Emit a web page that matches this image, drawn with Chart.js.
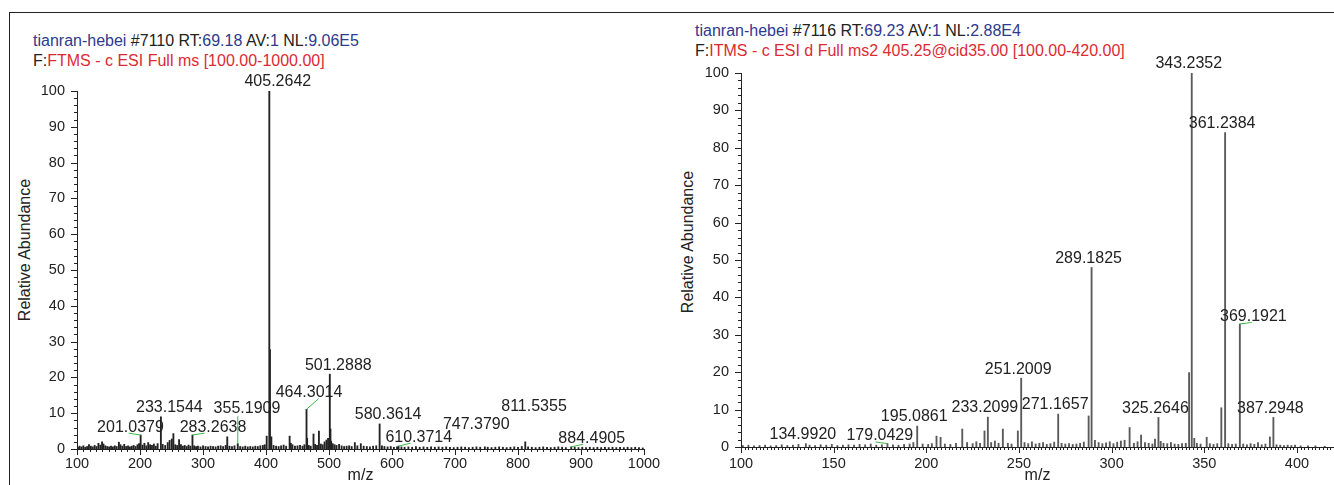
<!DOCTYPE html>
<html>
<head>
<meta charset="utf-8">
<script src="https://cdn.jsdelivr.net/npm/chart.js@4.4.1/dist/chart.umd.min.js"></script>
<style>
body{margin:0;width:1334px;height:485px;background:#fff;position:relative;overflow:hidden;font-family:'Liberation Sans',Arial,sans-serif;}
#frame{position:absolute;left:9px;top:12px;width:1400px;height:500px;border-left:1px solid #222;border-top:1px solid #222;}
.hdr{position:absolute;font-size:16px;line-height:20px;white-space:nowrap;color:#222;}
.b{color:#2e3a8e}
.r{color:#dc2a34}
.ytitle{position:absolute;font-size:16px;white-space:nowrap;color:#222;transform:translate(-50%,-50%) rotate(-90deg);}
canvas{position:absolute;top:0}
</style>
</head>
<body>
<div id="frame"></div>

<div class="hdr" style="left:33px;top:31px"><span class="b">tianran-hebei</span> #7110 RT:<span class="b">69.18</span> AV:<span class="b">1</span> NL:<span class="b">9.06E5</span></div>
<div class="hdr" style="left:33px;top:51px">F:<span class="r">FTMS - c ESI Full ms [100.00-1000.00]</span></div>
<div class="hdr" style="left:695px;top:21px"><span class="b">tianran-hebei</span> #7116 RT:<span class="b">69.23</span> AV:<span class="b">1</span> NL:<span class="b">2.88E4</span></div>
<div class="hdr" style="left:695px;top:41px">F:<span class="r">ITMS - c ESI d Full ms2 405.25@cid35.00 [100.00-420.00]</span></div>

<div class="ytitle" style="left:25px;top:250px">Relative Abundance</div>
<div class="ytitle" style="left:688px;top:242px">Relative Abundance</div>

<canvas id="ms1" width="680" height="485" style="left:0"></canvas>
<canvas id="ms2" width="674" height="485" style="left:660px"></canvas>

<script>
// Full scan #7110 (m/z, relative abundance)
const ms1Mz = [101.5,104,107,110,113,116,119,122,125,128,131,134,137,139.8,142,145,148,151,154,157,160,163,166.5,169,172,175,178,181,184,187,190,193,196,198.5,201.0379,204,207,210,213,216,219,222,225,228,233.1544,236,240,244,247,250.5,253,256,259,262,265,268,271,274,277,280,283.2638,286,289,292,296,300,304,308,312,316,320,324,328,332,336,338.5,342,346,350,355.1909,359,363,367,371,375,379,383,387,391,395,398,401.1,405.2642,406.27,408.5,412,416,420,424,428,432,437.5,439.5,442,446,450,454,458,461,464.3014,465.3,468,471,475.4,478,481,484,487,490,493,496,498.5,501.2888,502.3,503.4,506,509,512,516,520,524,528,532,536,541,545,550.5,555,560,565,570,575,580.3614,584,588,593,598,603,608,610.3714,615,620,626,632,638,644,650,656,662,668,674,680,686,692,698,704,710,716,722,728,734,740,747.379,752,758,764,770,776,782,788,794,800,806,811.5355,816,822,828,834,840,846,852,858,864,870,876,884.4905,890,896,902,908,914,920,926,932,938,944,950,956,962,968,974,980,986,992,998];
const ms1Int = [0.5,0.8,0.6,0.9,0.5,0.7,1.2,0.8,0.6,1.0,0.7,1.6,1.1,2.0,1.4,0.9,0.7,0.6,0.8,0.6,0.9,0.7,1.9,1.2,0.8,1.3,0.7,0.9,0.6,0.8,1.0,0.7,1.2,1.5,3.9,1.1,1.6,0.9,1.8,1.2,1.0,1.4,0.8,1.5,9.0,1.3,1.0,1.8,2.4,2.8,4.3,1.2,1.0,2.6,1.2,0.8,1.0,0.7,1.1,0.8,3.9,0.9,0.7,0.8,0.6,0.9,0.7,0.6,0.8,0.7,0.6,0.8,0.9,0.7,1.0,3.4,0.8,0.7,0.9,1.5,0.7,0.6,0.8,0.6,0.7,0.6,0.8,0.7,0.9,1.0,1.2,3.6,100,27.8,3.4,1.0,0.8,0.7,0.9,1.1,0.8,3.6,1.6,1.2,0.8,0.9,1.0,0.8,1.2,11.1,3.0,1.0,0.8,4.2,1.3,1.0,5.0,1.4,1.2,2.0,2.5,3.0,20.9,5.6,2.2,1.5,1.2,1.0,1.3,0.9,0.7,0.8,0.9,0.7,1.8,0.9,1.5,0.8,0.7,0.6,0.8,0.9,7.0,0.9,0.7,0.6,0.7,0.5,0.6,0.8,0.6,0.5,0.6,0.5,0.7,0.5,0.6,0.5,0.6,0.5,0.6,0.5,0.6,0.5,0.4,0.5,0.6,0.5,0.4,0.5,0.6,0.5,0.6,0.5,0.4,0.5,0.6,0.5,0.4,0.5,0.6,0.5,0.7,2.0,0.6,0.5,0.4,0.5,0.6,0.5,0.4,0.5,0.6,0.5,0.4,0.6,0.5,0.4,0.5,0.4,0.5,0.4,0.5,0.4,0.5,0.4,0.5,0.4,0.5,0.4,0.5,0.4,0.5,0.4,0.3];
// labelled peaks: [m/z, label m/z, label abundance, leader line]; null = label sits on the peak
const ms1Labels = [
  [201.0379, 184.9, 6.1, true],
  [233.1544, null, null, false],
  [283.2638, 315.9, 6.1, true],
  [355.1909, 369.8, 11.4, true],
  [405.2642, null, null, false],
  [464.3014, 468.3, 15.7, true],
  [501.2888, null, null, false],
  [580.3614, null, null, false],
  [610.3714, 642.5, 3.3, true],
  [747.379, 733.8, 6.7, false],
  [811.5355, 825.4, 11.8, false],
  [884.4905, 917.0, 3.0, true]
];

// MS2 #7116 of 405.25
const ms2Mz = [101,104,107,110,113,116,119,122,125,128,131,134.992,137,140,143,146,149,152,155,158,161,164,167,170,173,176,179.0429,182,185,188,191,193,195.0861,198,201,203,205.5,207.7,210,213,216,219.4,222,225,227,229,231.4,233.2099,235,237,239,241.3,244,246,249.4,251.2009,253,255,257,259,261,263,265,267,269,271.1657,273,275,277,279,281,283,285,287.6,289.1825,291,293,295,297,299,301,303,305,307,309.7,312,314,315.9,318,320,322,323.4,325.2646,326.5,328,330,332,334,336,338,340,341.8,343.2352,344.6,346,348,351.3,353,355,357,359.2,361.2384,363,365,367,369.1921,371,373,375,377,379,381,383,385.4,387.2948,389,391,393,395,397,399,402,406,410,415];
const ms2Int = [0.4,0.5,0.3,0.4,0.5,0.3,0.4,0.6,0.4,0.5,0.7,0.9,0.5,0.4,0.6,0.5,0.7,0.4,0.5,0.6,0.5,0.7,0.6,0.8,0.5,0.6,0.9,0.6,0.5,0.7,0.8,1.2,5.6,0.8,0.7,0.9,2.9,2.6,0.8,0.7,1.0,4.8,1.2,0.9,1.4,1.0,4.3,8.0,1.2,1.6,1.0,4.8,1.0,0.8,4.3,18.4,1.2,0.9,1.4,0.8,1.0,1.2,0.7,0.9,1.3,8.8,1.0,0.8,0.9,0.7,0.8,1.0,1.3,8.3,48.0,1.8,1.2,0.9,1.1,1.4,0.9,1.3,1.6,1.8,5.2,1.0,1.4,3.2,1.2,1.0,0.8,2.1,7.9,1.5,1.0,0.9,1.2,0.8,0.7,0.9,1.0,19.9,100,2.3,1.0,0.8,2.6,0.9,0.7,0.9,10.5,84.1,0.9,0.7,0.8,32.9,0.8,0.6,0.9,0.7,1.2,0.6,0.8,2.7,7.9,0.6,0.5,0.4,0.5,0.4,0.5,0.3,0.3,0.3,0.2];
const ms2Labels = [
  [134.992, null, null, false],
  [179.0429, 174.9, 2.95, true],
  [195.0861, null, null, false],
  [233.2099, null, null, false],
  [251.2009, null, null, false],
  [271.1657, null, null, false],
  [289.1825, null, null, false],
  [325.2646, null, null, false],
  [343.2352, null, null, false],
  [361.2384, null, null, false],
  [369.1921, 376.5, 34.9, true],
  [387.2948, null, null, false]
];

const FONT = "'Liberation Sans', Arial, sans-serif";

// draws the m/z labels over the peaks, green leader lines for moved labels
function labelPlugin(mzs, ints, labels, dx) {
  return {
    id: 'peakLabels',
    afterDatasetsDraw(chart) {
      const {ctx} = chart;
      const x = chart.scales.x, y = chart.scales.y;
      ctx.save();
      ctx.font = '16px ' + FONT;
      ctx.textAlign = 'center';
      ctx.textBaseline = 'middle';
      labels.forEach(([mz, tx, ty, lead]) => {
        let i = 0;
        mzs.forEach((m, k) => { if (Math.abs(m - mz) < Math.abs(mzs[i] - mz)) i = k; });
        const px = x.getPixelForValue(mz);
        const py = y.getPixelForValue(ints[i]);
        let cx = px + dx, cy = py - 9;
        if (tx !== null) {
          cx = x.getPixelForValue(tx);
          cy = y.getPixelForValue(ty);
        }
        if (lead) {
          const bottom = cy + 6;
          ctx.strokeStyle = '#3cb84a';
          ctx.lineWidth = 1;
          ctx.beginPath();
          ctx.moveTo(px, py);
          if (py - bottom > 15) ctx.lineTo(px, bottom + 2);
          else ctx.lineTo(px + Math.sign(cx - px) * 12, bottom);
          ctx.stroke();
        }
        ctx.fillStyle = '#222';
        ctx.fillText(mz.toFixed(4), cx, cy);
      });
      ctx.restore();
    }
  };
}

// major + minor tick marks on both axes, placed with the chart's scales
function tickPlugin(xMinor, xMajor) {
  return {
    id: 'axisTicks',
    afterDraw(chart) {
      const {ctx, chartArea} = chart;
      const x = chart.scales.x, y = chart.scales.y;
      ctx.save();
      ctx.strokeStyle = '#222';
      ctx.lineWidth = 1;
      ctx.beginPath();
      for (let v = x.min; v <= x.max + 1e-6; v += xMinor) {
        const px = Math.round(x.getPixelForValue(v)) + 0.5;
        const len = Math.round(v) % xMajor === 0 ? 6 : 3;
        ctx.moveTo(px, chartArea.bottom);
        ctx.lineTo(px, chartArea.bottom + len);
      }
      for (let v = 0; v <= 100; v += 2) {
        const py = Math.round(y.getPixelForValue(v)) + 0.5;
        const len = v % 10 === 0 ? 6 : 3;
        ctx.moveTo(chartArea.left - len, py);
        ctx.lineTo(chartArea.left, py);
      }
      ctx.stroke();
      ctx.restore();
    }
  };
}

function makeSpectrum(id, mzs, ints, labels, cfg) {
  const ctx = document.getElementById(id).getContext('2d');
  new Chart(ctx, {
    type: 'bar',
    data: {
      datasets: [{
        data: mzs.map((m, i) => ({x: m, y: ints[i]})),
        backgroundColor: cfg.color,
        borderWidth: 0,
        barThickness: 1.2
      }]
    },
    options: {
      responsive: false,
      animation: false,
      events: [],
      layout: {padding: {top: cfg.top, right: cfg.right, left: 0, bottom: 0}},
      plugins: {legend: {display: false}, tooltip: {enabled: false}},
      scales: {
        x: {
          type: 'linear',
          min: cfg.xmin,
          max: cfg.xmax,
          offset: false,
          afterFit: s => { s.height = cfg.xh; },
          afterBuildTicks: s => {
            const t = [];
            for (let v = cfg.xmin; v <= cfg.xmax; v += cfg.xmajor) t.push({value: v});
            s.ticks = t;
          },
          border: {display: true, color: '#222', width: 1},
          grid: {display: false, drawTicks: false, offset: false},
          ticks: {
            autoSkip: false,
            maxRotation: 0,
            padding: cfg.xpad,
            color: '#222',
            font: {size: 14.5, family: FONT},
            callback: v => String(Math.round(v))
          },
          title: {display: true, text: 'm/z', color: '#222', padding: 0, font: {size: 16, family: FONT}}
        },
        y: {
          min: 0,
          max: 100,
          afterFit: s => { s.width = cfg.yw; },
          border: {display: true, color: '#222', width: 1},
          grid: {display: false, drawTicks: false},
          ticks: {
            stepSize: 10,
            autoSkip: false,
            padding: 12,
            color: '#222',
            font: {size: 14.5, family: FONT},
            callback: v => String(Math.round(v))
          }
        }
      }
    },
    plugins: [labelPlugin(mzs, ints, labels, cfg.dx), tickPlugin(cfg.xminor, cfg.xmajor)]
  });
}

makeSpectrum('ms1', ms1Mz, ms1Int, ms1Labels,
  {color: '#222222', top: 91, right: 36, xh: 36, yw: 77, xmin: 100, xmax: 1000, xminor: 10, xmajor: 100, xpad: 6, dx: 8.5});
makeSpectrum('ms2', ms2Mz, ms2Int, ms2Labels,
  {color: '#5a5a5a', top: 73, right: 0, xh: 38, yw: 81, xmin: 100, xmax: 420, xminor: 2, xmajor: 50, xpad: 8, dx: -3});
</script>
</body>
</html>
